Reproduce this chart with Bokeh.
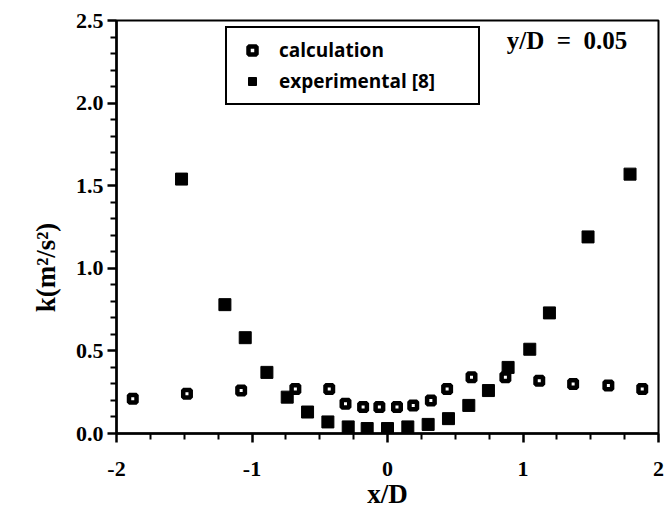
from bokeh.plotting import figure
from bokeh.models import (Range1d, FixedTicker, Legend, LegendItem,
                          Label, ColumnDataSource)
from bokeh.embed import file_html
from bokeh.resources import INLINE

# ---- data ----
calc_x = [-1.88, -1.48, -1.08, -0.68, -0.43, -0.31, -0.18, -0.06, 0.07, 0.19,
          0.32, 0.44, 0.62, 0.87, 1.12, 1.37, 1.63, 1.88]
calc_y = [0.21, 0.24, 0.26, 0.27, 0.27, 0.18, 0.16, 0.16, 0.16, 0.17,
          0.20, 0.27, 0.34, 0.34, 0.32, 0.30, 0.29, 0.27]

exp_x = [-1.52, -1.20, -1.05, -0.89, -0.74, -0.59, -0.44, -0.29, -0.15, 0.0,
         0.15, 0.30, 0.45, 0.60, 0.745, 0.89, 1.05, 1.195, 1.48, 1.79]
exp_y = [1.54, 0.78, 0.58, 0.37, 0.22, 0.13, 0.07, 0.04, 0.03, 0.03,
         0.04, 0.055, 0.09, 0.17, 0.26, 0.40, 0.51, 0.73, 1.19, 1.57]

x_ticks = [-2, -1, 0, 1, 2]
x_tick_labels = ["-2", "-1", "0", "1", "2"]
x_minor = [-1.75, -1.5, -1.25, -0.75, -0.5, -0.25, 0.25, 0.5, 0.75,
           1.25, 1.5, 1.75]
y_ticks = [0.0, 0.5, 1.0, 1.5, 2.0, 2.5]
y_tick_labels = ["0.0", "0.5", "1.0", "1.5", "2.0", "2.5"]
y_minor = [0.1, 0.2, 0.3, 0.4, 0.6, 0.7, 0.8, 0.9, 1.1, 1.2, 1.3, 1.4,
           1.6, 1.7, 1.8, 1.9, 2.1, 2.2, 2.3, 2.4]

series_labels = ["calculation", "experimental [8]"]
annotation_text = "y/D\u00a0\u00a0=\u00a0\u00a00.05"
x_title = "x/D"
y_title = "k(m\u00b2/s\u00b2)"

SERIF = "Liberation Serif"
NB = "\u00a0"

p = figure(width=664, height=510, output_backend="svg", toolbar_location=None,
           x_range=Range1d(-2, 2), y_range=Range1d(0, 2.5),
           min_border_left=116, min_border_right=6, min_border_top=20,
           min_border_bottom=77)
p.frame_width = 542
p.frame_height = 413

p.xgrid.visible = False
p.ygrid.visible = False
p.outline_line_color = "black"
p.outline_line_width = 2
p.outline_line_alpha = 1
p.background_fill_color = "white"
p.border_fill_color = "white"

src_c = ColumnDataSource(dict(x=calc_x, y=calc_y))
src_e = ColumnDataSource(dict(x=exp_x, y=exp_y))

r_e = p.scatter("x", "y", source=src_e, marker="square", size=12,
                fill_color="black", line_color="black", line_width=1)
r_c = p.scatter("x", "y", source=src_c, marker="square", size=7.5,
                fill_color="white", line_color="black", line_width=4.5)

# axes: major ticks with labels, minor ticks between them
xa = p.xaxis[0]
ya = p.yaxis[0]
xa.ticker = FixedTicker(ticks=x_ticks, minor_ticks=x_minor)
ya.ticker = FixedTicker(ticks=y_ticks, minor_ticks=y_minor)
xa.major_label_overrides = dict(zip(x_ticks, x_tick_labels))
ya.major_label_overrides = dict(zip(y_ticks, y_tick_labels))
for ax in (xa, ya):
    ax.axis_line_color = "black"
    ax.axis_line_width = 2.5
    ax.major_tick_line_color = "black"
    ax.major_tick_line_width = 2.5
    ax.minor_tick_line_color = "black"
    ax.minor_tick_line_alpha = 1
    ax.minor_tick_line_width = 2
    ax.major_tick_in = 0
    ax.major_tick_out = 9
    ax.minor_tick_in = 0
    ax.minor_tick_out = 6
    ax.major_label_text_font = SERIF
    ax.major_label_text_font_style = "bold"
    ax.major_label_text_font_size = "22px"
    ax.major_label_text_color = "black"
    ax.axis_label_text_font = SERIF
    ax.axis_label_text_font_style = "bold"
    ax.axis_label_text_font_size = "27px"
    ax.axis_label_text_color = "black"
xa.major_label_standoff = 19
xa.axis_label_standoff = 0
ya.major_label_standoff = 4
ya.axis_label_standoff = 12
xa.axis_label = x_title
ya.axis_label = y_title + NB * 12

legend = Legend(items=[LegendItem(label=series_labels[0], renderers=[r_c]),
                       LegendItem(label=series_labels[1], renderers=[r_e])],
                location=(109, 328))
legend.border_line_color = "black"
legend.border_line_alpha = 1
legend.border_line_width = 2
legend.background_fill_color = "white"
legend.background_fill_alpha = 1
legend.padding = 9
legend.spacing = 5
legend.margin = 0
legend.glyph_width = 32
legend.glyph_height = 20
legend.label_height = 20
legend.label_width = 190
legend.label_standoff = 11
legend.label_text_font = "Open Sans"
legend.label_text_font_style = "bold"
legend.label_text_font_size = "19px"
legend.label_text_color = "black"
p.add_layout(legend)

ann = Label(x=0.88, y=2.38, text=annotation_text, text_font=SERIF,
            text_font_style="bold", text_font_size="25px",
            text_baseline="middle", text_color="black")
p.add_layout(ann)

open("out.html", "w").write(file_html(p, INLINE))
